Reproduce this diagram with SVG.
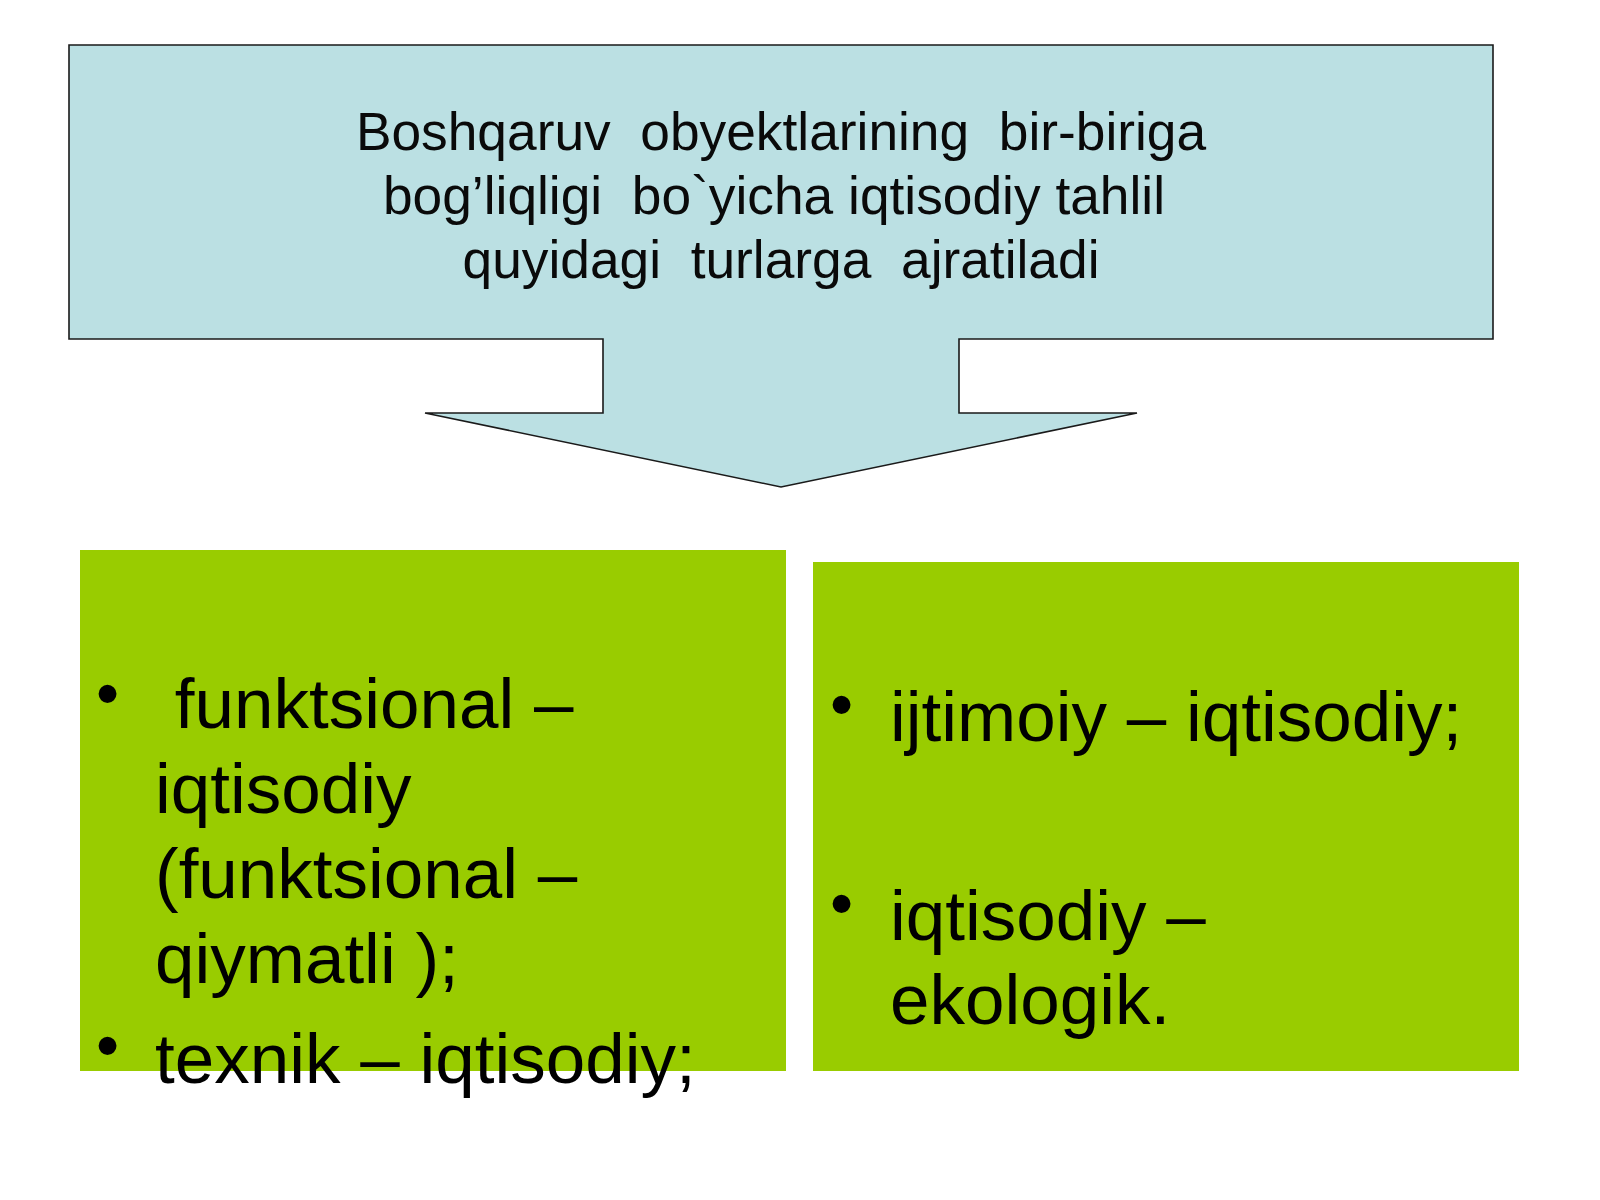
<svg xmlns="http://www.w3.org/2000/svg" width="1600" height="1200" viewBox="0 0 1600 1200">
<style>
.t{font-family:"Liberation Sans",Arial,sans-serif;fill:#000;white-space:pre}
.h{font-size:53.3px;text-anchor:middle;fill:#0a0a0a}
.b{font-size:71px}
.dot{font-size:66px}
.green{fill:#99CC00}
</style>
<rect width="1600" height="1200" fill="#fff"/>
<g id="header">
<polygon points="69,45 1493,45 1493,339 959,339 959,413 1137,413 781,487 425,413 603,413 603,339 69,339" fill="#BBE0E3" stroke="#1a1a1a" stroke-width="1.6"/>
<text class="t h" x="781" y="150" xml:space="preserve">Boshqaruv  obyektlarining  bir-biriga</text>
<text class="t h" x="774" y="214" xml:space="preserve">bog’liqligi  bo`yicha iqtisodiy tahlil</text>
<text class="t h" x="781" y="278" xml:space="preserve">quyidagi  turlarga  ajratiladi</text>
</g>
<g id="connectors"></g>
<g id="left-box">
<rect class="green" x="80" y="550" width="706" height="521"/>
<text class="t dot" x="96" y="716">•</text>
<text class="t b" x="155" y="728" xml:space="preserve"> funktsional –</text>
<text class="t b" x="155" y="813">iqtisodiy</text>
<text class="t b" x="155" y="898">(funktsional –</text>
<text class="t b" x="155" y="983">qiymatli );</text>
<text class="t dot" x="96" y="1068">•</text>
<text class="t b" x="155" y="1083">texnik – iqtisodiy;</text>
</g>
<g id="right-box">
<rect class="green" x="813" y="562" width="706" height="509"/>
<text class="t dot" x="830" y="727">•</text>
<text class="t b" x="890" y="741">ijtimoiy – iqtisodiy;</text>
<text class="t dot" x="830" y="926">•</text>
<text class="t b" x="890" y="940">iqtisodiy –</text>
<text class="t b" x="890" y="1024">ekologik.</text>
</g>
</svg>
